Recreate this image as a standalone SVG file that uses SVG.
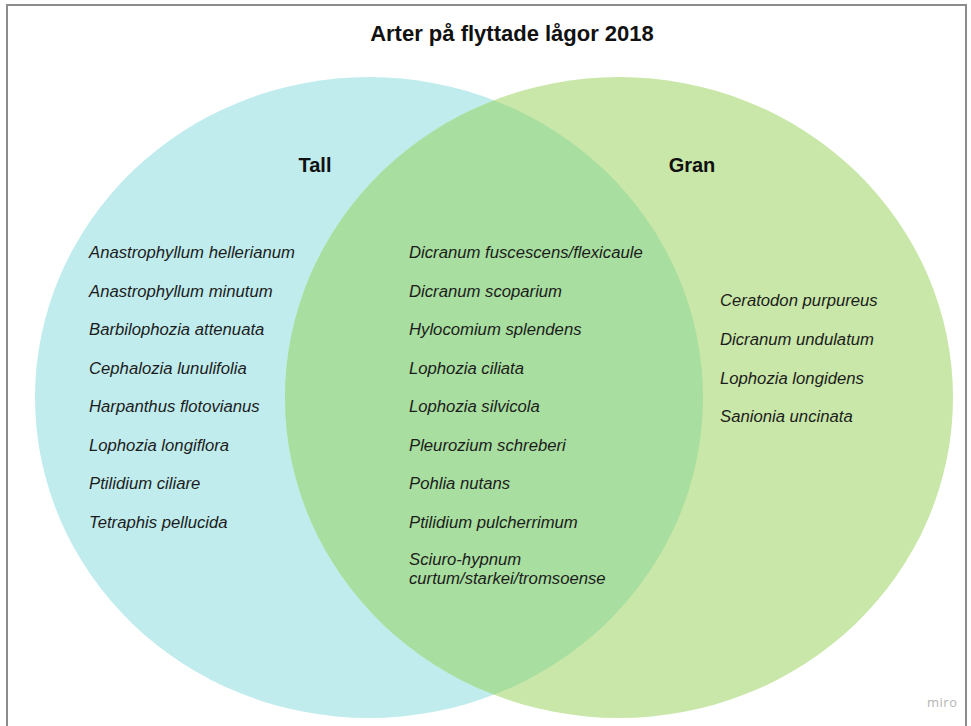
<svg xmlns="http://www.w3.org/2000/svg" width="971" height="726" viewBox="0 0 971 726">
<style>
.title{font-family:"Liberation Sans",Arial,sans-serif;font-weight:bold;font-size:22px;fill:#111;}
.set{font-family:"Liberation Sans",Arial,sans-serif;font-weight:bold;font-size:20px;fill:#111;}
.sp{font-family:"Liberation Sans",Arial,sans-serif;font-style:italic;font-size:16.7px;fill:#1c1c1c;}
.wm{font-family:"Open Sans","Liberation Sans",sans-serif;font-size:13px;fill:#b5b5b5;letter-spacing:0.5px;}
</style>
<defs>
<clipPath id="clipTall"><ellipse cx="369" cy="397.5" rx="334" ry="320.5"/></clipPath>
</defs>
<rect x="0" y="0" width="971" height="726" fill="#ffffff"/>
<rect x="7" y="5" width="959" height="760" fill="none" stroke="#8c8c8c" stroke-width="2"/>
<text class="title" x="512" y="41" text-anchor="middle">Arter på flyttade lågor 2018</text>
<g id="tall">
<ellipse cx="369" cy="397.5" rx="334" ry="320.5" fill="#c0ecee"/>
</g>
<g id="gran">
<ellipse cx="619" cy="397.5" rx="334" ry="320.5" fill="#c9e7a8"/>
</g>
<g id="overlap">
<ellipse cx="619" cy="397.5" rx="334" ry="320.5" fill="#a8de9f" clip-path="url(#clipTall)"/>
</g>
<g id="connectors"></g>
<g id="label-tall"><text class="set" x="315" y="172" text-anchor="middle">Tall</text></g>
<g id="label-gran"><text class="set" x="692" y="172" text-anchor="middle">Gran</text></g>
<g id="list-tall">
<text class="sp" x="89" y="258">Anastrophyllum hellerianum</text>
<text class="sp" x="89" y="296.5">Anastrophyllum minutum</text>
<text class="sp" x="89" y="335">Barbilophozia attenuata</text>
<text class="sp" x="89" y="373.5">Cephalozia lunulifolia</text>
<text class="sp" x="89" y="412">Harpanthus flotovianus</text>
<text class="sp" x="89" y="450.5">Lophozia longiflora</text>
<text class="sp" x="89" y="489">Ptilidium ciliare</text>
<text class="sp" x="89" y="527.5">Tetraphis pellucida</text>
</g>
<g id="list-both">
<text class="sp" x="409" y="258">Dicranum fuscescens/flexicaule</text>
<text class="sp" x="409" y="296.5">Dicranum scoparium</text>
<text class="sp" x="409" y="335">Hylocomium splendens</text>
<text class="sp" x="409" y="373.5">Lophozia ciliata</text>
<text class="sp" x="409" y="412">Lophozia silvicola</text>
<text class="sp" x="409" y="450.5">Pleurozium schreberi</text>
<text class="sp" x="409" y="489">Pohlia nutans</text>
<text class="sp" x="409" y="527.5">Ptilidium pulcherrimum</text>
<text class="sp" x="409" y="565">Sciuro-hypnum</text>
<text class="sp" x="409" y="584">curtum/starkei/tromsoense</text>
</g>
<g id="list-gran">
<text class="sp" x="720" y="306">Ceratodon purpureus</text>
<text class="sp" x="720" y="345">Dicranum undulatum</text>
<text class="sp" x="720" y="384">Lophozia longidens</text>
<text class="sp" x="720" y="422">Sanionia uncinata</text>
</g>
<text class="wm" x="927" y="707">miro</text>
</svg>
